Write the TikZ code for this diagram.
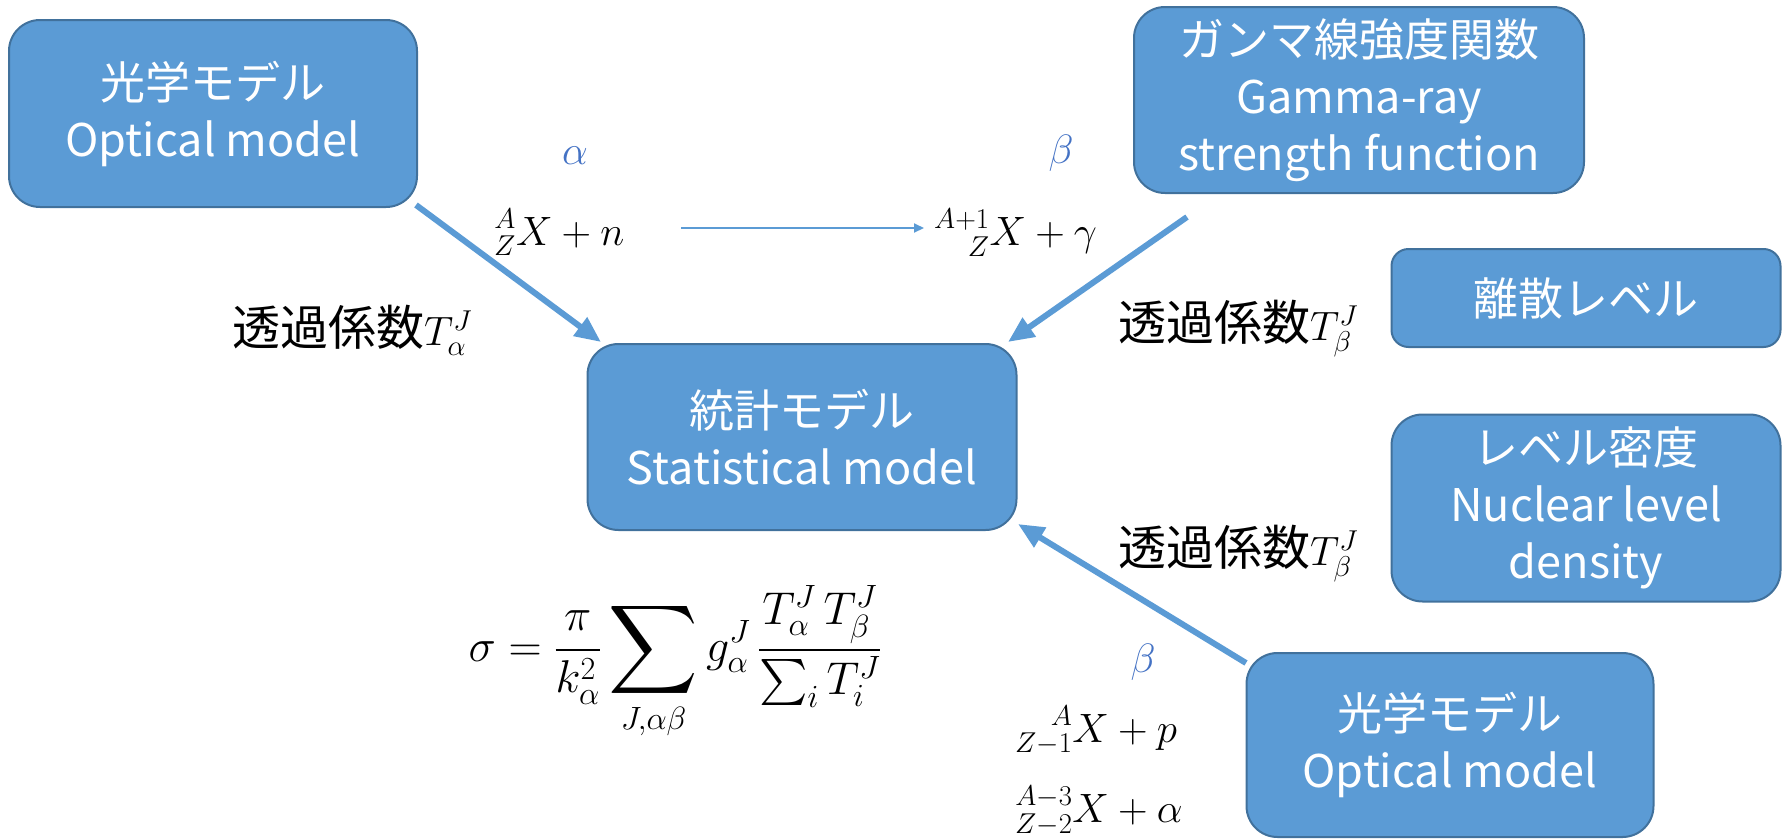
\RequirePackage{fix-cm}
\documentclass[tikz,border=0pt]{standalone}
\usepackage{fontspec}
\usepackage{mathtools}
\usepackage{graphicx}
\newfontfamily\jp{Noto Sans CJK JP}
\DeclareFontShape{OMX}{cmex}{m}{n}{<->cmex10}{}
\usetikzlibrary{arrows.meta}
\definecolor{boxfill}{HTML}{5B9BD5}
\definecolor{boxline}{HTML}{41719C}
\definecolor{greek}{HTML}{4472C4}
\newcommand{\bigsum}{\mathop{\vcenter{\hbox{\scalebox{1.35}{$\displaystyle\sum$}}}}\limits}
\begin{document}
\begin{tikzpicture}[x=1pt,y=-1pt,
  mbox/.style={draw=boxline, line width=2pt, fill=boxfill, text=white,
    font=\jp\fontsize{45}{57}\selectfont, align=center, inner sep=0pt,
    rounded corners=#1},
  mbox/.default=31pt,
  mlab/.style={inner sep=0pt, font=\fontsize{41}{48}\selectfont},
  glab/.style={mlab, text=greek},
  jlab/.style={mlab, anchor=base west},
  bigarrow/.style={draw=boxfill, line width=6pt, -{Triangle[length=26pt,width=22pt]}},
  thinarrow/.style={draw=boxfill, line width=2pt, -{Triangle[length=10pt,width=9pt]}}
]
\useasboundingbox (0,0) rectangle (1788,838);

% boxes
\node[mbox, minimum width=408pt, minimum height=187pt] (opt1) at (213,113.5) {光学モデル\\Optical model};
\node[mbox, minimum width=450pt, minimum height=186pt] (gam) at (1359,100) {ガンマ線強度関数\\Gamma-ray\\strength function};
\node[mbox=17pt, minimum width=389pt, minimum height=98pt] (disc) at (1586,298) {離散レベル};
\node[mbox, minimum width=429pt, minimum height=186pt] (stat) at (802,437) {統計モデル\\Statistical model};
\node[mbox, minimum width=389pt, minimum height=187pt] (dens) at (1586,508) {レベル密度\\Nuclear level\\density};
\node[mbox, minimum width=407pt, minimum height=184pt] (opt2) at (1450,745) {光学モデル\\Optical model};

% greek labels
\node[glab] (al1) at (575,156) {$\alpha$};
\node[glab] (be1) at (1061,153) {$\beta$};
\node[glab] (be2) at (1143,662) {$\beta$};

% reactions
\node[jlab] (r1) at (494,245) {$\prescript{A}{Z}{X}+n$};
\node[jlab] (r2) at (934,245) {$\prescript{A+1}{Z}{X}+\gamma$};
\node[jlab] (r3) at (1015,742) {$\prescript{A}{Z-1}{X}+p$};
\node[jlab] (r4) at (1015,822) {$\prescript{A-3}{Z-2}{X}+\alpha$};

% transmission coefficients
\node[jlab] (t1) at (232,345) {{\jp\fontsize{48}{52}\selectfont 透過係数}$T_\alpha^J$};
\node[jlab] (t2) at (1118,340) {{\jp\fontsize{48}{52}\selectfont 透過係数}$T_\beta^J$};
\node[jlab] (t3) at (1118,565) {{\jp\fontsize{48}{52}\selectfont 透過係数}$T_\beta^J$};

% formula
\node[inner sep=0pt, font=\fontsize{46}{54}\selectfont] (form) at (675,663) {$\displaystyle \sigma=\frac{\pi}{k_\alpha^2}\bigsum_{J,\alpha\beta} g_\alpha^J\,\frac{T_\alpha^J\, T_\beta^J}{\sum_i T_i^J}$};

% connector ends
\coordinate (a1s) at (416,205);
\coordinate (a1e) at (601,342);
\coordinate (a2s) at (1187,217);
\coordinate (a2e) at (1008,342);
\coordinate (a3s) at (1246,663);
\coordinate (a3e) at (1018,524);
\coordinate (hs) at (681,228);
\coordinate (he) at (924,228);

\draw[bigarrow] (a1s) -- (a1e);
\draw[bigarrow] (a2s) -- (a2e);
\draw[bigarrow] (a3s) -- (a3e);
\draw[thinarrow] (hs) -- (he);
\end{tikzpicture}
\end{document}
